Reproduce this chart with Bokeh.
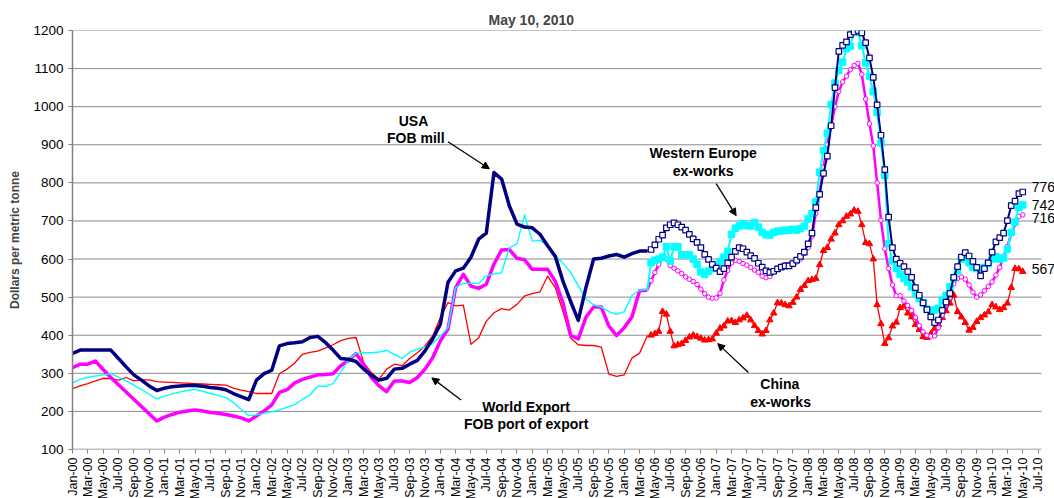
import numpy as np
from bokeh.plotting import figure
from bokeh.models import Range1d, FixedTicker, Label, Arrow, NormalHead
from bokeh.embed import file_html
from bokeh.resources import INLINE

# ---------------- data ----------------
# monthly values, Jan-00 .. Apr-06 (month index 0..75)
early_month = list(range(76))
usa_early = [352, 361, 361, 361, 361, 361, 339, 317, 296, 282,
             267, 255, 261, 265, 267, 268, 268, 266, 263, 261,
             257, 247, 239, 231, 282, 299, 308, 372, 378, 380,
             383, 394, 397, 381, 361, 339, 337, 331, 311, 295,
             282, 287, 311, 313, 324, 334, 359, 390, 429, 539,
             569, 576, 605, 652, 668, 827, 810, 740, 692, 684,
             682, 665, 635, 607, 542, 489, 439, 525, 600, 602,
             608, 612, 605, 614, 621, 621]
world_early = [315, 324, 324, 332, 310, 289, 270, 251, 232, 213,
               194, 175, 185, 192, 198, 201, 204, 201, 197, 195,
               192, 188, 183, 175, 188, 201, 217, 250, 257, 275,
               284, 290, 296, 297, 299, 320, 333, 352, 324, 289,
               267, 252, 280, 280, 276, 289, 311, 341, 385, 416,
               525, 560, 529, 523, 534, 587, 624, 625, 602, 598,
               573, 573, 573, 542, 485, 400, 390, 447, 474, 474,
               424, 399, 420, 448, 517, 518]
weu_early = [275, 284, 289, 293, 296, 299, 290, 280, 269, 258,
             245, 233, 240, 246, 251, 255, 258, 253, 247, 242,
             236, 223, 205, 189, 191, 195, 199, 204, 211, 218,
             232, 243, 266, 266, 273, 303, 334, 353, 354, 354,
             356, 360, 350, 339, 356, 363, 369, 378, 398, 420,
             525, 536, 536, 536, 556, 561, 564, 630, 640, 716,
             647, 649, 636, 607, 590, 565, 530, 495, 480, 474,
             462, 455, 462, 505, 518, 520]
china_early = [260, 267, 273, 280, 287, 286, 282, 289, 280, 283,
               283, 278, 277, 276, 275, 274, 273, 272, 271, 270,
               269, 261, 256, 252, 247, 247, 247, 299, 311, 327,
               350, 355, 358, 366, 375, 386, 392, 394, 328, 302,
               284, 311, 324, 320, 339, 354, 372, 398, 446, 486,
               477, 479, 376, 393, 437, 459, 470, 466, 481, 503,
               509, 514, 555, 525, 463, 393, 375, 373, 373, 369,
               298, 292, 296, 340, 353, 398]

# semi-monthly values, mid-Apr-06 .. May-10 (month index 75.5 .. 124.0)
late_month = [float(v) for v in np.arange(75.5, 124.01, 0.5)]
usa_late = [625, 637, 652, 663, 682, 690, 695, 690, 684, 676,
            665, 653, 644, 630, 612, 599, 586, 576, 567, 575,
            590, 605, 620, 630, 627, 618, 609, 602, 589, 579,
            569, 565, 568, 574, 579, 582, 582, 588, 597, 607,
            618, 640, 668, 735, 770, 825, 870, 950, 1050, 1145,
            1161, 1170, 1189, 1196, 1200, 1194, 1168, 1128, 1077, 1005,
            925, 835, 710, 630, 600, 589, 580, 567, 552, 525,
            505, 485, 467, 448, 433, 440, 465, 487, 510, 552,
            580, 605, 617, 608, 594, 578, 556, 575, 590, 618,
            645, 656, 668, 701, 740, 752, 772, 776]
weu_late = [590, 597, 600, 605, 632, 595, 632, 632, 611, 611,
            611, 600, 586, 566, 560, 568, 575, 580, 593, 605,
            620, 665, 681, 687, 693, 688, 687, 696, 684, 670,
            664, 663, 670, 673, 674, 675, 676, 678, 676, 680,
            686, 705, 719, 750, 828, 885, 930, 1005, 1062, 1095,
            1117, 1152, 1158, 1200, 1196, 1160, 1115, 1080, 1040, 985,
            905, 820, 640, 595, 575, 560, 549, 540, 527, 509,
            496, 485, 468, 464, 466, 471, 492, 505, 527, 550,
            569, 600, 609, 590, 579, 575, 576, 578, 588, 600,
            606, 600, 603, 626, 670, 697, 735, 742]
world_late = [543, 565, 586, 604, 600, 583, 576, 569, 562, 553,
              547, 541, 533, 521, 509, 500, 497, 498, 510, 545,
              570, 590, 597, 594, 588, 584, 578, 571, 565, 555,
              551, 554, 565, 575, 581, 585, 586, 586, 592, 600,
              615, 630, 660, 720, 775, 840, 900, 950, 1000, 1040,
              1065, 1080, 1097, 1108, 1114, 1085, 1020, 955, 897, 800,
              702, 627, 575, 532, 504, 504, 490, 478, 465, 447,
              425, 409, 400, 397, 398, 420, 453, 480, 510, 535,
              549, 553, 547, 532, 513, 500, 506, 517, 528, 540,
              558, 578, 606, 633, 667, 692, 712, 716]
china_late = [400, 404, 410, 462, 455, 410, 372, 375, 378, 386,
              395, 400, 396, 392, 387, 388, 390, 405, 418, 424,
              437, 438, 433, 440, 445, 452, 440, 425, 412, 403,
              412, 440, 458, 485, 484, 480, 477, 486, 500, 520,
              530, 543, 546, 549, 585, 622, 630, 652, 668, 690,
              700, 712, 718, 728, 725, 690, 643, 640, 600, 480,
              430, 378, 393, 424, 434, 472, 477, 458, 448, 428,
              415, 396, 394, 403, 418, 428, 446, 464, 484, 505,
              462, 448, 433, 413, 420, 436, 446, 453, 461, 480,
              474, 467, 472, 484, 525, 575, 574, 567]

month_names = ["Jan", "Mar", "May", "Jul", "Sep", "Nov"]
tick_months = list(range(0, 127, 2))
tick_labels = [f"{month_names[(m % 12) // 2]}-{m // 12:02d}" for m in tick_months]
y_ticks = list(range(100, 1201, 100))
axis_end = 126.45          # last month shown by the category axis (just past Jul-10)

# ---------------- styling ----------------
FONT = "Liberation Sans"
NAVY, MAG, CYAN, RED = "#000080", "#FF00FF", "#00FFFF", "#FF0000"
GRID = "#8c8c8c"

# frame runs to the page edge so the end-of-series labels are not clipped;
# the grid is drawn only over the dated part of the axis
p = figure(frame_width=982, frame_height=419,
           min_border_left=72, min_border_right=0, min_border_top=30, min_border_bottom=49,
           x_range=Range1d(0, axis_end + 13 / 7.663), y_range=Range1d(100, 1200),
           output_backend="svg", toolbar_location=None)

p.title.text = "May 10, 2010"
p.title.align = "left"
p.title.offset = 416
p.title.standoff = 5
p.title.text_font = FONT
p.title.text_font_size = "14px"
p.title.text_font_style = "bold"

p.xaxis.ticker = FixedTicker(ticks=tick_months)
p.xaxis.major_label_overrides = {float(m): t for m, t in zip(tick_months, tick_labels)}
p.xaxis.major_label_orientation = np.pi / 2
p.xaxis.major_label_text_font_size = "12.5px"
p.xaxis.major_label_standoff = 4
p.xaxis.axis_line_color = None
p.yaxis.ticker = FixedTicker(ticks=y_ticks)
p.yaxis.major_label_text_font_size = "13.5px"
p.yaxis.major_label_standoff = 5
p.yaxis.axis_line_color = "#808080"
p.yaxis.axis_line_width = 1.5
for ax in (p.xaxis, p.yaxis):
    ax.major_label_text_font = FONT
    ax.major_label_text_color = "black"
    ax.major_tick_line_color = "#808080"
    ax.major_tick_in = 0
    ax.major_tick_out = 4
    ax.minor_tick_line_color = None
p.yaxis.axis_label = "Dollars per metric tonne"
p.yaxis.axis_label_text_font = FONT
p.yaxis.axis_label_text_font_size = "12px"
p.yaxis.axis_label_text_font_style = "bold"
p.yaxis.axis_label_standoff = 8
p.xgrid.grid_line_color = None
p.ygrid.grid_line_color = None
p.outline_line_color = None

# horizontal grid lines + bottom axis line, limited to the dated axis span
grid_y = y_ticks[1:]
p.segment(x0=[0] * len(grid_y), y0=grid_y, x1=[axis_end] * len(grid_y), y1=grid_y,
          line_color=GRID, line_width=1, level="underlay")
p.segment(x0=[0], y0=[y_ticks[0]], x1=[axis_end], y1=[y_ticks[0]],
          line_color="#808080", line_width=1.5, level="underlay")

# ---------------- series ----------------
# China ex-works
p.line(early_month, china_early, color=RED, line_width=1.3, line_join="round")
p.line([early_month[-1]] + late_month, [china_early[-1]] + china_late, color=RED, line_width=1.3, line_join="round")
p.scatter(late_month, china_late, marker="triangle", size=6.5, fill_color=RED, line_color=RED)

# World export
p.line(early_month, world_early, color=MAG, line_width=3.5, line_join="round")
p.line([early_month[-1]] + late_month, [world_early[-1]] + world_late, color=MAG, line_width=2.5, line_join="round")
p.scatter(late_month, world_late, marker="circle", size=4.5, fill_color="white", line_color=MAG, line_width=1)

# Western Europe
p.line(early_month, weu_early, color=CYAN, line_width=1.4, line_join="round")
p.line([early_month[-1]] + late_month, [weu_early[-1]] + weu_late, color=CYAN, line_width=2, line_join="round")
p.scatter(late_month, weu_late, marker="square", size=6.5, fill_color=CYAN, line_color=CYAN)

# USA
p.line(early_month, usa_early, color=NAVY, line_width=3.5, line_join="round")
p.line([early_month[-1]] + late_month, [usa_early[-1]] + usa_late, color=NAVY, line_width=2, line_join="round")
p.scatter(late_month, usa_late, marker="square", size=5.5, fill_color="white", line_color=NAVY, line_width=1.2)

# ---------------- annotations ----------------
notes = [  # (text, month, value)
    ("USA", 44.5, 963), ("FOB mill", 44.8, 918),
    ("Western Europe", 82.3, 879), ("ex-works", 82.3, 832),
    ("World Export", 59.2, 212), ("FOB port of export", 59.2, 167),
    ("China", 92.3, 272), ("ex-works", 92.4, 225),
]
for txt, xm, yv in notes:
    p.add_layout(Label(x=xm, y=yv, text=txt, text_align="center", text_baseline="middle",
                       text_font=FONT, text_font_size="14px", text_font_style="bold",
                       text_color="black"))

arrows = [  # (x_start, y_start, x_end, y_end)
    (49.0, 908, 54.4, 837),
    (84.0, 798, 86.6, 714),
    (50.7, 230, 46.9, 288),
    (88.2, 302, 84.2, 378),
]
for xs, ys, xe, ye in arrows:
    p.add_layout(Arrow(end=NormalHead(size=7, fill_color="black", line_color="black", line_width=1),
                       x_start=xs, y_start=ys, x_end=xe, y_end=ye,
                       line_color="black", line_width=1.3))

end_labels = [(usa_late, 5), (weu_late, 0), (world_late, -3), (china_late, 3)]
for series, dy in end_labels:
    p.add_layout(Label(x=late_month[-1], y=series[-1], text=f"{series[-1]:.0f}",
                       x_offset=9, y_offset=dy, text_baseline="middle",
                       text_font=FONT, text_font_size="14px", text_color="black"))

open("out.html", "w").write(file_html(p, INLINE))
